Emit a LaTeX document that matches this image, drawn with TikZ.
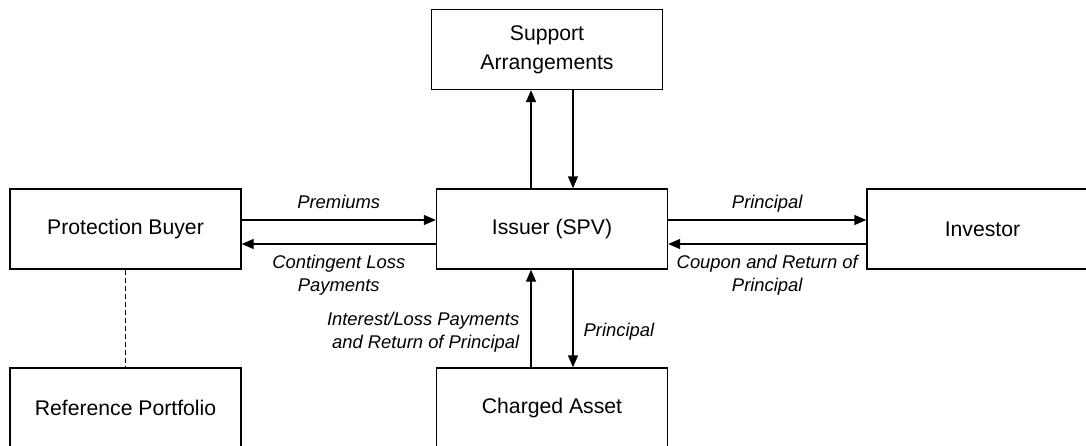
\documentclass[tikz,border=0pt]{standalone}
\usepackage{fontspec}
\setmainfont{Liberation Sans}
\usetikzlibrary{arrows.meta}

\tikzset{
  box/.style={draw, line width=0.7pt, minimum width=115.5pt, minimum height=40pt,
    align=center, font=\fontsize{10.6}{14.5}\selectfont},
  flow/.style={line width=0.7pt, -{Triangle[length=6pt,width=5pt]}},
  lbl/.style={font=\fontsize{9.2}{11.5}\selectfont\itshape, align=center, inner sep=2pt}
}

\begin{document}
\begin{tikzpicture}[x=0.5pt,y=-0.5pt]
  \useasboundingbox (0,0) rectangle (1086,445);
  \clip (0,0) rectangle (1086,445);

  % parties
  \node[box] (support) at (547,49.5) {Support\\Arrangements};
  \node[box] (buyer) at (125.5,229) {Protection Buyer};
  \node[box] (issuer) at (552,229) {Issuer (SPV)};
  \node[box] (investor) at (982.5,229) {Investor};
  \node[box] (refport) at (125.5,408) {Reference Portfolio};
  \node[box] (asset) at (552,408) {Charged Asset};

  % buyer <-> issuer
  \draw[flow] ([yshift=4.5pt]buyer.east) -- ([yshift=4.5pt]issuer.west)
    node[lbl, midway, above=1pt, text depth=0.22em] (premlbl) {Premiums};
  \draw[flow] ([yshift=-7.5pt]issuer.west) -- ([yshift=-7.5pt]buyer.east)
    node[lbl, midway, below=3pt] (losslbl) {Contingent Loss\\Payments};

  % issuer <-> investor
  \draw[flow] ([yshift=4.5pt]issuer.east) -- ([yshift=4.5pt]investor.west)
    node[lbl, midway, above=1pt, text depth=0.22em] (princlbl) {Principal};
  \draw[flow] ([yshift=-7.5pt]investor.west) -- ([yshift=-7.5pt]issuer.east)
    node[lbl, midway, below=3pt] (couponlbl) {Coupon and Return of\\Principal};

  % issuer <-> support
  \draw[flow] ([xshift=-10.5pt]issuer.north) -- ([xshift=-10.5pt]issuer.north |- support.south);
  \draw[flow] ([xshift=10.5pt]issuer.north |- support.south) -- ([xshift=10.5pt]issuer.north);

  % issuer <-> charged asset
  \draw[flow] ([xshift=-10.5pt]asset.north) -- ([xshift=-10.5pt]issuer.south)
    node[lbl, pos=0.36, left=3.5pt, align=right] (intlbl) {Interest/Loss Payments\\and Return of Principal};
  \draw[flow] ([xshift=10.5pt]issuer.south) -- ([xshift=10.5pt]asset.north)
    node[lbl, pos=0.64, right=3pt] (princlbl2) {Principal};

  % reference link
  \draw[line width=0.7pt, dash pattern=on 2.5pt off 1.5pt] (buyer.south) -- (refport.north);
\end{tikzpicture}
\end{document}
